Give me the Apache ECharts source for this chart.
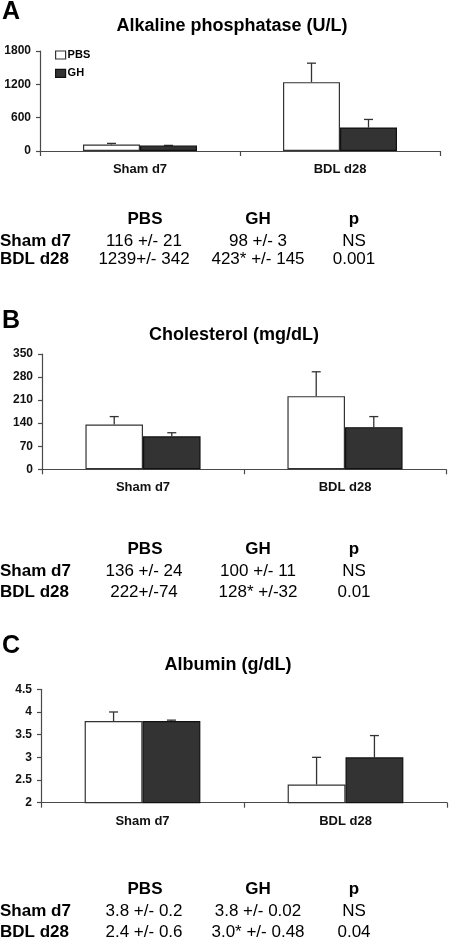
<!DOCTYPE html>
<html>
<head>
<meta charset="utf-8">
<script src="https://cdn.jsdelivr.net/npm/echarts@6/dist/echarts.min.js"></script>
<style>
html,body{margin:0;padding:0;background:#fff;}
#chart{width:450px;height:942px;}
</style>
</head>
<body>
<div id="chart"></div>
<script>
// ---- data ----
const categories = ['Sham d7', 'BDL d28'];
const seriesNames = ['PBS', 'GH'];

const alpPBS = [116, 1239];
const alpGH = [98, 423];
const alpPBSErr = [21, 342];
const alpGHErr = [3, 145];

const cholPBS = [136, 222];
const cholGH = [100, 128];
const cholPBSErr = [24, 74];
const cholGHErr = [11, 32];

const albPBS = [3.8, 2.4];
const albGH = [3.8, 3.0];
const albPBSErr = [0.2, 0.6];
const albGHErr = [0.02, 0.48];

const panelLetters = ['A', 'B', 'C'];
const panelTitles = ['Alkaline phosphatase (U/L)', 'Cholesterol (mg/dL)', 'Albumin (g/dL)'];

const tableHeaders = ['PBS', 'GH', 'p'];
const rowLabels = ['Sham d7', 'BDL d28'];
const tableA = [['116 +/- 21', '98 +/- 3', 'NS'], ['1239+/- 342', '423* +/- 145', '0.001']];
const tableB = [['136 +/- 24', '100 +/- 11', 'NS'], ['222+/-74', '128* +/-32', '0.01']];
const tableC = [['3.8 +/- 0.2', '3.8 +/- 0.02', 'NS'], ['2.4 +/- 0.6', '3.0* +/- 0.48', '0.04']];

// ---- layout / style ----
const FONT = '"Liberation Sans", Arial, Helvetica, sans-serif';
const BAR_PCT = 0.285;
const axisColor = '#4a4a4a';

const panels = [
  {pbs: alpPBS, gh: alpGH, pbsErr: alpPBSErr, ghErr: alpGHErr, min: 0, max: 1800, interval: 600,
   grid: {left: 40, top: 51, width: 400, height: 100}, table: tableA,
   letterY: 12, titleX: 232, titleY: 26, tableYs: [219, 241, 259.5]},
  {pbs: cholPBS, gh: cholGH, pbsErr: cholPBSErr, ghErr: cholGHErr, min: 0, max: 350, interval: 70,
   grid: {left: 42, top: 354, width: 404, height: 115.3}, table: tableB,
   letterY: 321.5, titleX: 234, titleY: 335, tableYs: [549, 571.5, 592.5]},
  {pbs: albPBS, gh: albGH, pbsErr: albPBSErr, ghErr: albGHErr, min: 2, max: 4.5, interval: 0.5,
   grid: {left: 41, top: 689.3, width: 406, height: 113.4}, table: tableC,
   letterY: 646.5, titleX: 228, titleY: 665, tableYs: [889, 911.5, 932.5]}
];

const colX = [144, 258, 354];

function errRender(sign) {
  return function (params, api) {
    const cat = api.value(0);
    const v = api.value(1);
    const e = api.value(2);
    const band = api.size([1, 0])[0];
    const off = sign * band * BAR_PCT / 2;
    const p0 = api.coord([cat, v]);
    const p1 = api.coord([cat, v + e]);
    const x = p0[0] + off;
    const cap = 4.5;
    return {
      type: 'group',
      children: [
        {type: 'line', shape: {x1: x, y1: p0[1], x2: x, y2: p1[1]}, style: {stroke: '#333', lineWidth: 1.3}},
        {type: 'line', shape: {x1: x - cap, y1: p1[1], x2: x + cap, y2: p1[1]}, style: {stroke: '#333', lineWidth: 1.3}}
      ]
    };
  };
}

const grid = [], xAxis = [], yAxis = [], series = [], graphic = [];

panels.forEach((p, i) => {
  grid.push(Object.assign({containLabel: false}, p.grid));
  xAxis.push({
    type: 'category', gridIndex: i, data: categories,
    axisLine: {lineStyle: {color: axisColor, width: 1.2}},
    axisTick: {show: true, length: 5, lineStyle: {color: axisColor, width: 1.2}},
    axisLabel: {color: '#111', fontFamily: FONT, fontWeight: 'bold', fontSize: 13, margin: 12}
  });
  yAxis.push({
    type: 'value', gridIndex: i, min: p.min, max: p.max, interval: p.interval,
    axisLine: {show: true, lineStyle: {color: axisColor, width: 1.2}},
    axisTick: {show: true, length: 4, lineStyle: {color: axisColor, width: 1.2}},
    splitLine: {show: false},
    axisLabel: {color: '#111', fontFamily: FONT, fontWeight: 'bold', fontSize: 12, margin: 9,
      formatter: (v) => String(v)}
  });
  series.push({
    name: 'PBS', type: 'bar', xAxisIndex: i, yAxisIndex: i, data: p.pbs,
    barWidth: (BAR_PCT * 100) + '%', barGap: '0%',
    itemStyle: {color: '#ffffff', borderColor: '#333', borderWidth: 1.2},
    z: 2
  });
  series.push({
    name: 'GH', type: 'bar', xAxisIndex: i, yAxisIndex: i, data: p.gh,
    barWidth: (BAR_PCT * 100) + '%', barGap: '0%',
    itemStyle: {color: '#333333', borderColor: '#111', borderWidth: 1.2},
    z: 2
  });
  series.push({
    type: 'custom', xAxisIndex: i, yAxisIndex: i,
    data: p.pbs.map((v, k) => [k, v, p.pbsErr[k]]),
    encode: {x: 0, y: 1}, renderItem: errRender(-1), z: 1, silent: true
  });
  series.push({
    type: 'custom', xAxisIndex: i, yAxisIndex: i,
    data: p.gh.map((v, k) => [k, v, p.ghErr[k]]),
    encode: {x: 0, y: 1}, renderItem: errRender(1), z: 1, silent: true
  });

  // panel letter
  graphic.push({type: 'text', x: 2, y: p.letterY,
    style: {text: panelLetters[i], font: 'bold 25px ' + FONT, fill: '#000', align: 'left', verticalAlign: 'middle'}});
  // title
  graphic.push({type: 'text', x: p.titleX, y: p.titleY,
    style: {text: panelTitles[i], font: 'bold 18px ' + FONT, fill: '#000', align: 'center', verticalAlign: 'middle'}});
  // table headers
  tableHeaders.forEach((h, c) => {
    graphic.push({type: 'text', x: colX[c] + (c === 0 ? 1 : 0), y: p.tableYs[0],
      style: {text: h, font: 'bold 17px ' + FONT, fill: '#000', align: 'center', verticalAlign: 'middle'}});
  });
  rowLabels.forEach((r, k) => {
    graphic.push({type: 'text', x: 0, y: p.tableYs[k + 1],
      style: {text: r, font: 'bold 17px ' + FONT, fill: '#000', align: 'left', verticalAlign: 'middle'}});
    p.table[k].forEach((cell, c) => {
      graphic.push({type: 'text', x: colX[c], y: p.tableYs[k + 1],
        style: {text: cell, font: '17px ' + FONT, fill: '#000', align: 'center', verticalAlign: 'middle'}});
    });
  });
});

// legend (panel A)
const legendItems = seriesNames.map((n, k) => ({
  name: n,
  itemStyle: k === 0 ? {color: '#fff', borderColor: '#333', borderWidth: 1.2} : {color: '#333', borderColor: '#111', borderWidth: 1.2}
}));

const chart = echarts.init(document.getElementById('chart'), null, {renderer: 'canvas'});
chart.setOption({
  animation: false,
  backgroundColor: '#ffffff',
  grid, xAxis, yAxis, series, graphic,
  legend: {
    data: legendItems, left: 55, top: 49, orient: 'vertical', padding: 0,
    itemWidth: 10, itemHeight: 8, itemGap: 6.3,
    icon: 'rect',
    textStyle: {fontFamily: FONT, fontWeight: 'bold', fontSize: 11, lineHeight: 12, color: '#000', padding: [0, 0, 0, -3]}
  }
});
</script>
</body>
</html>
